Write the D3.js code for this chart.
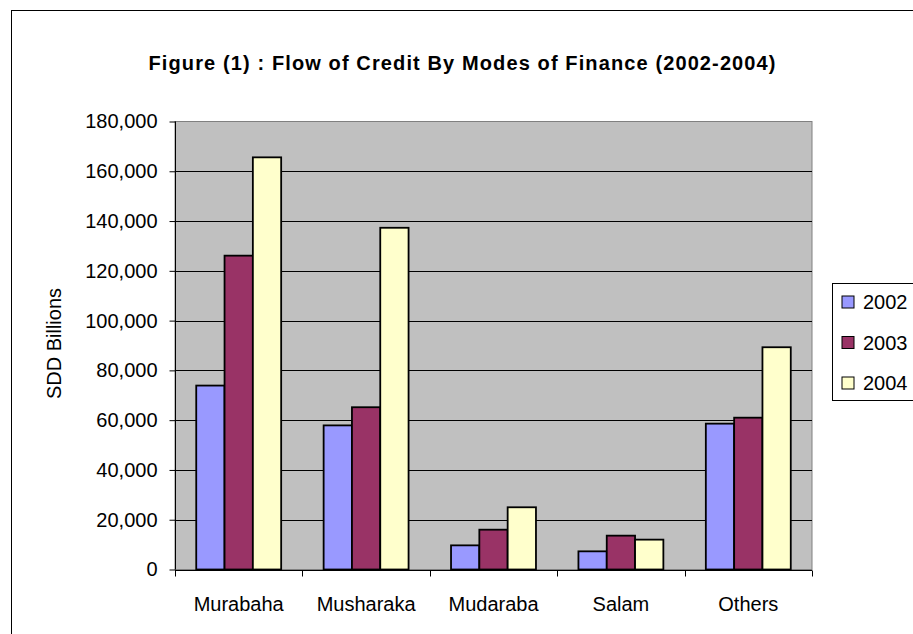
<!DOCTYPE html>
<html>
<head>
<meta charset="utf-8">
<script src="https://cdn.jsdelivr.net/npm/d3@7"></script>
<style>
  html, body { margin: 0; padding: 0; background: #ffffff; }
  svg { display: block; font-family: "Liberation Sans", Arial, sans-serif; }
</style>
</head>
<body>
<svg id="chart" width="913" height="634"></svg>
<script>
// Flow of credit by mode of finance, SDD billions
const categories = ["Murabaha", "Musharaka", "Mudaraba", "Salam", "Others"];
const years = ["2002", "2003", "2004"];
const values2002 = [73900, 57900, 9700, 7300, 58600];
const values2003 = [126100, 65200, 16000, 13600, 61000];
const values2004 = [165600, 137300, 25000, 12000, 89300];
const yTicks = [0, 20000, 40000, 60000, 80000, 100000, 120000, 140000, 160000, 180000];
const colors = ["#9999FF", "#993366", "#FFFFCC"];
const titleText = "Figure (1) : Flow of Credit By Modes of Finance (2002-2004)";
const yLabel = "SDD Billions";

const series = [values2002, values2003, values2004];
const rows = categories.map((c, i) => ({ cat: c, vals: years.map((y, j) => ({ year: y, v: series[j][i], j })) }));

const svg = d3.select("#chart");
const FONT = 20;

// outer chart frame
svg.append("rect")
  .attr("x", 11.5).attr("y", 10.5)
  .attr("width", 920).attr("height", 640)
  .attr("fill", "#ffffff").attr("stroke", "#000").attr("stroke-width", 1);

const plot = { left: 175, right: 812, top: 121.5, bottom: 569.5 };

const x = d3.scaleBand().domain(categories).range([plot.left, plot.right]).paddingInner(0).paddingOuter(0);
// gap between groups is 1.5 bar widths -> 3 bars take 3/4.5 of a category
const groupPad = x.bandwidth() * (1.5 / 4.5) / 2;
const xs = d3.scaleBand().domain(years).range([groupPad, x.bandwidth() - groupPad]).padding(0);
const y = d3.scaleLinear().domain([0, 180000]).range([plot.bottom, plot.top]);

// plot area background
svg.append("rect")
  .attr("x", plot.left).attr("y", plot.top)
  .attr("width", plot.right - plot.left).attr("height", plot.bottom - plot.top)
  .attr("fill", "#C0C0C0").attr("stroke", "#808080").attr("stroke-width", 1);

// horizontal gridlines
svg.append("g").selectAll("line")
  .data(yTicks.filter(t => t > 0 && t < 180000))
  .join("line")
  .attr("x1", plot.left).attr("x2", plot.right)
  .attr("y1", d => Math.round(y(d)) + 0.5).attr("y2", d => Math.round(y(d)) + 0.5)
  .attr("stroke", "#000").attr("stroke-width", 1);

// bars
const groups = svg.append("g").selectAll("g")
  .data(rows).join("g")
  .attr("transform", d => `translate(${x(d.cat)},0)`);
groups.selectAll("rect")
  .data(d => d.vals).join("rect")
  .attr("x", d => xs(d.year))
  .attr("y", d => y(d.v))
  .attr("width", xs.bandwidth())
  .attr("height", d => y(0) - y(d.v))
  .attr("fill", d => colors[d.j])
  .attr("stroke", "#000").attr("stroke-width", 1.8);

// y axis
const yAxis = d3.axisLeft(y).tickValues(yTicks)
  .tickFormat(d3.format(",")).tickSize(6).tickPadding(12);
const gy = svg.append("g").attr("transform", `translate(${plot.left + 0.5},0)`).call(yAxis);
gy.select(".domain").attr("stroke", "#000").attr("d", `M0,${plot.top}V${plot.bottom}`);
gy.selectAll(".tick line").attr("stroke", "#000");
gy.selectAll(".tick text").attr("font-size", FONT).attr("fill", "#000")
  .attr("font-family", "Liberation Sans, Arial, sans-serif");

// x axis with ticks on category boundaries
const gx = svg.append("g").attr("transform", `translate(0,${Math.round(plot.bottom) + 0.5})`);
gx.append("line").attr("x1", plot.left).attr("x2", plot.right).attr("stroke", "#000");
const bounds = categories.map(c => x(c)).concat([plot.right]);
gx.selectAll("line.tk").data(bounds).join("line").attr("class", "tk")
  .attr("x1", d => Math.round(d) + 0.5).attr("x2", d => Math.round(d) + 0.5)
  .attr("y1", 0).attr("y2", 6).attr("stroke", "#000");
gx.selectAll("text").data(categories).join("text")
  .attr("x", d => x(d) + x.bandwidth() / 2)
  .attr("y", 40)
  .attr("text-anchor", "middle")
  .attr("font-size", FONT).attr("fill", "#000")
  .text(d => d);

// y axis title
svg.append("text")
  .attr("transform", `translate(61,${(plot.top + plot.bottom) / 2 - 2}) rotate(-90)`)
  .attr("text-anchor", "middle")
  .attr("font-size", FONT).attr("fill", "#000")
  .text(yLabel);

// chart title
svg.append("text")
  .attr("x", 462).attr("y", 70)
  .attr("text-anchor", "middle")
  .attr("font-size", 20).attr("font-weight", "bold").attr("fill", "#000")
  .attr("textLength", 627).attr("lengthAdjust", "spacing")
  .text(titleText);

// legend
const lg = svg.append("g");
lg.append("rect").attr("x", 832.5).attr("y", 283.5).attr("width", 90).attr("height", 117)
  .attr("fill", "#ffffff").attr("stroke", "#000").attr("stroke-width", 1);
const items = lg.selectAll("g.item").data(years).join("g").attr("class", "item")
  .attr("transform", (d, i) => `translate(842,${302 + i * 40.5})`);
items.append("rect").attr("x", 0).attr("y", -6).attr("width", 12).attr("height", 12)
  .attr("fill", (d, i) => colors[i]).attr("stroke", "#000").attr("stroke-width", 1);
items.append("text").attr("x", 21).attr("y", 7)
  .attr("font-size", FONT).attr("fill", "#000").text(d => d);
</script>
</body>
</html>
